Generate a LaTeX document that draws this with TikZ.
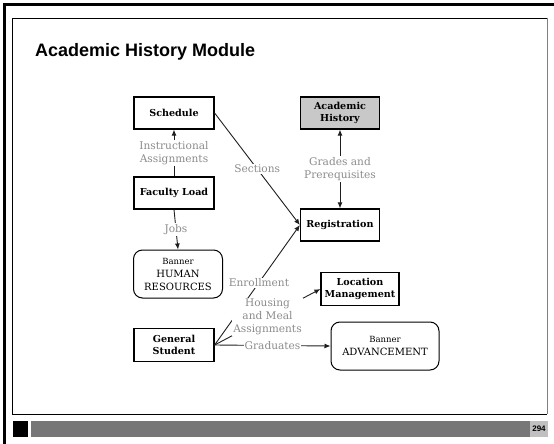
\documentclass[tikz,border=0pt]{standalone}
\usepackage{fontspec}
\setmainfont{DejaVu Serif}
\newfontfamily\ahsans{Liberation Sans}
\newcommand{\ahsmall}{\fontsize{8.5}{9}\selectfont}
\usetikzlibrary{
  arrows.meta,
  positioning,
  calc
}
\definecolor{ahBar}{HTML}{777777}
\definecolor{ahPage}{HTML}{C0C0C0}
\definecolor{ahTag}{HTML}{8C8C8C}
\definecolor{ahFill}{HTML}{C8C8C8}
\definecolor{ahLine}{HTML}{1E1E1E}
\tikzset{
  ahnode/.style={
    draw, line width=1.2pt, minimum height=32pt, minimum width=80pt,
    font=\fontsize{9.6}{12}\selectfont\bfseries, align=center, inner sep=1pt
  },
  ahbox/.style={ahnode, fill=white},
  ahhist/.style={ahnode, fill=ahFill},
  ahbanner/.style={draw, line width=1pt, rounded corners=9pt, minimum height=48pt, fill=white,
    font=\fontsize{10}{13}\selectfont, align=center, inner sep=1pt},
  ahflow/.style={-{Latex[length=6pt,width=5pt]}, line width=0.9pt, ahLine},
  ahboth/.style={{Latex[length=6pt,width=5pt]}-{Latex[length=6pt,width=5pt]}, line width=0.9pt, ahLine},
  ahtag/.style={font=\fontsize{10.6}{13}\selectfont, text=ahTag, fill=white, inner sep=1pt, align=center}
}

\begin{document}
\begin{tikzpicture}[x=1pt, y=-1pt]
  \useasboundingbox (0,0) rectangle (554,444);
  % slide frame
  \draw[line width=3pt] (4.5,444) -- (4.5,4.5) -- (554,4.5);
  \draw[line width=0.8pt] (547,18) -- (12,18) -- (12,414) -- (547,414);
  \draw[gray, line width=1.5pt] (547.5,18) -- (547.5,414.4);
  \fill[black] (13,421) rectangle (28,437);
  \fill[ahBar] (31,421) rectangle (530,437);
  \fill[ahPage] (530,421) rectangle (548,437);
  \node[font=\ahsans\fontsize{8}{9}\selectfont\bfseries, inner sep=0pt] (page) at (539,429) {294};
  \node[font=\ahsans\fontsize{18}{20}\selectfont\bfseries, anchor=west, inner sep=0pt] (title) at (35,52) {Academic History Module};

  % boxes
  \node[ahbox] (sched) at (174,113) {Schedule};
  \node[ahbox] (fac) at (174,193) {Faculty Load};
  \node[ahbanner, minimum width=89pt] (hr) at (178,274) {{\ahsmall Banner}\\HUMAN\\RESOURCES};
  \node[ahbox, minimum height=33pt] (gen) at (174,345) {General\\Student};
  \node[ahhist, minimum width=79pt] (hist) at (340,113) {Academic\\History};
  \node[ahbox, minimum width=79pt] (reg) at (340,225) {Registration};
  \node[ahbox, minimum width=78pt, minimum height=33pt] (loc) at (360,289) {Location\\Management};
  \node[ahbanner, minimum width=108pt] (adv) at (385,346) {{\ahsmall Banner}\\ADVANCEMENT};

  % flows
  \draw[ahflow] (fac) -- node[ahtag] {Instructional\\Assignments} (sched);
  \draw[ahflow] (fac.south) -- node[ahtag] {Jobs} (hr.north);
  \draw[ahflow] (sched.east) -- node[ahtag] {Sections} (reg.west);
  \draw[ahboth] (reg) -- node[ahtag] {Grades and\\Prerequisites} (hist);
  \draw[ahflow] (gen.east) -- node[ahtag, pos=0.52] {Enrollment} (reg.west);
  \draw[ahflow] (gen.east) -- node[ahtag] {Housing\\and Meal\\Assignments} (loc.west);
  \draw[ahflow] (gen.east) -- node[ahtag] {Graduates} (adv.west);
\end{tikzpicture}
\end{document}
